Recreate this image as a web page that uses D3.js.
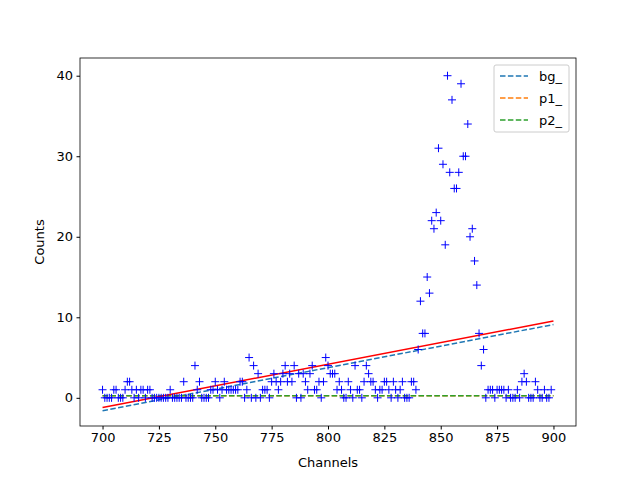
<!DOCTYPE html><html><head><script src="https://cdn.jsdelivr.net/npm/d3@7"></script>
<style>body{margin:0;background:#fff}text{font-family:"DejaVu Sans",sans-serif}</style></head><body><svg id="c" width="640" height="480"></svg>
<script>
const startChannel = 700;
const counts = [
1,0,0,0,0,1,1,0,0,0,1,2,2,1,0,1,0,1,1,0,1,1,0,0,0,0,0,0,0,0,
1,0,0,0,0,0,2,0,0,0,0,4,1,2,0,0,0,0,1,1,2,1,0,1,2,1,1,1,1,1,
1,2,2,0,1,5,0,4,0,3,0,1,1,1,0,2,3,2,1,2,3,4,2,3,2,4,0,3,0,3,
2,1,3,4,1,1,2,0,2,5,4,3,3,3,1,2,1,0,0,2,1,0,4,1,1,0,2,4,3,2,
2,1,0,1,1,2,2,1,0,2,1,0,1,2,0,0,0,2,2,1,
6,12,8,8,15,13,22,21,23,31,22,29,19,40,28,37,26,26,28,39,
30,30,34,20,21,17,14,8,4,6,0,1,1,1,0,1,1,1,1,0,1,0,0,0,1,0,2,3,2,0,
0,0,2,1,0,0,1,0,0,1];
const xTicks = [700,725,750,775,800,825,850,875,900];
const yTicks = [0,10,20,30,40];
const bgLine = [[700,-1.6],[900,9.1]];
const p1Line = [[700,0.25],[900,0.25]];
const p2Line = [[700,0.25],[900,0.25]];
const fitLine = [[700,-1.2],[900,9.55]];
const legendNames = ["bg_","p1_","p2_"];
const legendColors = ["#1f77b4","#ff7f0e","#2ca02c"];

const svg = d3.select("#c");
const L=80,R=576,T=58,B=426;
const x = d3.scaleLinear().domain([690,910]).range([L,R]);
const y = d3.scaleLinear().domain([-3.5,42.2]).range([B,T]);
const line = d3.line().x(d=>x(d[0])).y(d=>y(d[1]));
const g = svg.append("g");
g.append("path").attr("d",line(bgLine)).attr("stroke","#1f77b4").attr("stroke-width",1.5).attr("stroke-dasharray","5.5,2.4").attr("fill","none");
g.append("path").attr("d",line(p1Line)).attr("stroke","#ff7f0e").attr("stroke-width",1.5).attr("stroke-dasharray","5.5,2.4").attr("fill","none");
g.append("path").attr("d",line(p2Line)).attr("stroke","#2ca02c").attr("stroke-width",1.5).attr("stroke-dasharray","5.5,2.4").attr("fill","none");
g.append("path").attr("d",line(fitLine)).attr("stroke","red").attr("stroke-width",1.5).attr("fill","none");
const pts = counts.map((c,i)=>[startChannel+i,c]);
g.selectAll("path.p").data(pts).join("path").attr("class","p")
 .attr("d",d=>`M${x(d[0])-4},${y(d[1])}h8M${x(d[0])},${y(d[1])-4}v8`).attr("stroke","blue").attr("stroke-width",1);
svg.append("g").attr("transform",`translate(0,${B})`).call(d3.axisBottom(x).tickValues(xTicks).tickSize(3.5).tickPadding(3.5))
 .call(a=>{a.select(".domain").remove();a.selectAll("text").attr("font-size",13).attr("fill","#000");});
svg.append("g").attr("transform",`translate(${L},0)`).call(d3.axisLeft(y).tickValues(yTicks).tickSize(3.5).tickPadding(3.5))
 .call(a=>{a.select(".domain").remove();a.selectAll("text").attr("font-size",13).attr("fill","#000");});
svg.append("rect").attr("x",L).attr("y",T).attr("width",R-L).attr("height",B-T).attr("fill","none").attr("stroke","#000").attr("stroke-width",0.8);
svg.append("text").attr("x",(L+R)/2).attr("y",467).attr("text-anchor","middle").attr("font-size",13).text("Channels");
svg.append("text").attr("transform",`translate(44,${(T+B)/2}) rotate(-90)`).attr("text-anchor","middle").attr("font-size",13).text("Counts");
const lg = svg.append("g").attr("transform","translate(494,65)");
lg.append("rect").attr("width",75).attr("height",67).attr("rx",2).attr("fill","#fff").attr("fill-opacity",0.8).attr("stroke","#ccc");
legendNames.forEach((n,i)=>{
 lg.append("line").attr("x1",6).attr("x2",34).attr("y1",11+i*22).attr("y2",11+i*22).attr("stroke",legendColors[i]).attr("stroke-width",1.5).attr("stroke-dasharray","5.5,2.4");
 lg.append("text").attr("x",45).attr("y",16+i*22).attr("font-size",13).text(n);
});
</script></body></html>
